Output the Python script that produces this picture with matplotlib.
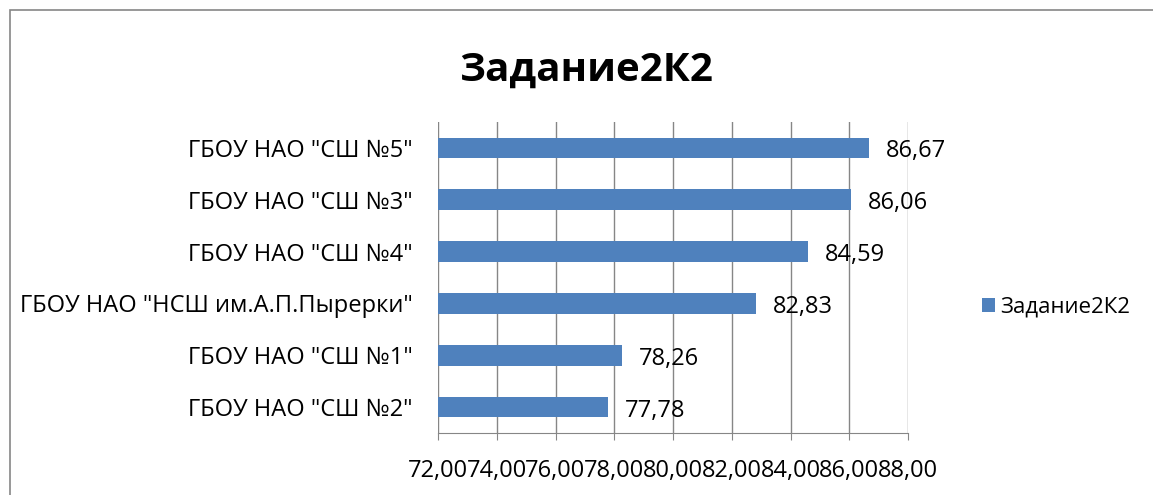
import matplotlib
matplotlib.use("Agg")
import matplotlib.pyplot as plt
from matplotlib.patches import Rectangle

schools = ['ГБОУ НАО "СШ №2"', 'ГБОУ НАО "СШ №1"', 'ГБОУ НАО "НСШ им.А.П.Пырерки"',
           'ГБОУ НАО "СШ №4"', 'ГБОУ НАО "СШ №3"', 'ГБОУ НАО "СШ №5"']
scores = [77.78, 78.26, 82.83, 84.59, 86.06, 86.67]
xticks = [72, 74, 76, 78, 80, 82, 84, 86, 88]
series_name = "Задание2К2"

plt.rcParams['font.family'] = ['Open Sans', 'DejaVu Sans']

W, H = 1153, 495
fig = plt.figure(figsize=(W / 100, H / 100), dpi=100)
ax = fig.add_axes([438 / W, 1 - 433 / H, (908 - 438) / W, (433 - 122) / H])

bar_color = "#4F81BD"
ypos = range(len(schools))
bars = ax.barh(ypos, [s - 72 for s in scores], left=72, height=0.4,
               color=bar_color, label=series_name, zorder=3)

# value labels to the right of each bar, comma decimal separator
for y, s in zip(ypos, scores):
    ax.annotate(f"{s:.2f}".replace(".", ","), (s, y), xytext=(12, -2.5),
                textcoords="offset points", ha="left", va="center",
                fontsize=17, color="black")

ax.set_xlim(72, 88)
ax.set_ylim(-0.5, len(schools) - 0.5)
ax.set_xticks(xticks)
ax.set_xticklabels([f"{t:.2f}".replace(".", ",") for t in xticks], fontsize=17)
ax.set_yticks(list(ypos))
ax.set_yticklabels(schools, fontsize=17)
ax.grid(axis="x", color="#868686", linewidth=1, zorder=0)
for side in ["top", "right", "left"]:
    ax.spines[side].set_visible(False)
ax.spines["bottom"].set_color("#868686")
ax.tick_params(axis="x", length=5, color="#868686", pad=14)
ax.tick_params(axis="y", length=0, pad=18)

fig.text(586 / W, 1 - 70 / H, "Задание2К2", ha="center", va="center",
         fontsize=29, fontweight="bold")

fig.legend(handles=[bars], labels=[series_name], loc="center left",
           bbox_to_anchor=(962 / W, 1 - 307 / H), frameon=False, fontsize=16,
           handlelength=0.6, handleheight=0.6, handletextpad=0.2)

# chart area border (right/bottom edges fall outside the image)
fig.patches.append(Rectangle((10 / W, -0.1), 1.2, 1.1 - 10 / H,
                             transform=fig.transFigure, fill=False,
                             edgecolor="#868686", linewidth=1.2))

fig.savefig("out.png", dpi=100)
